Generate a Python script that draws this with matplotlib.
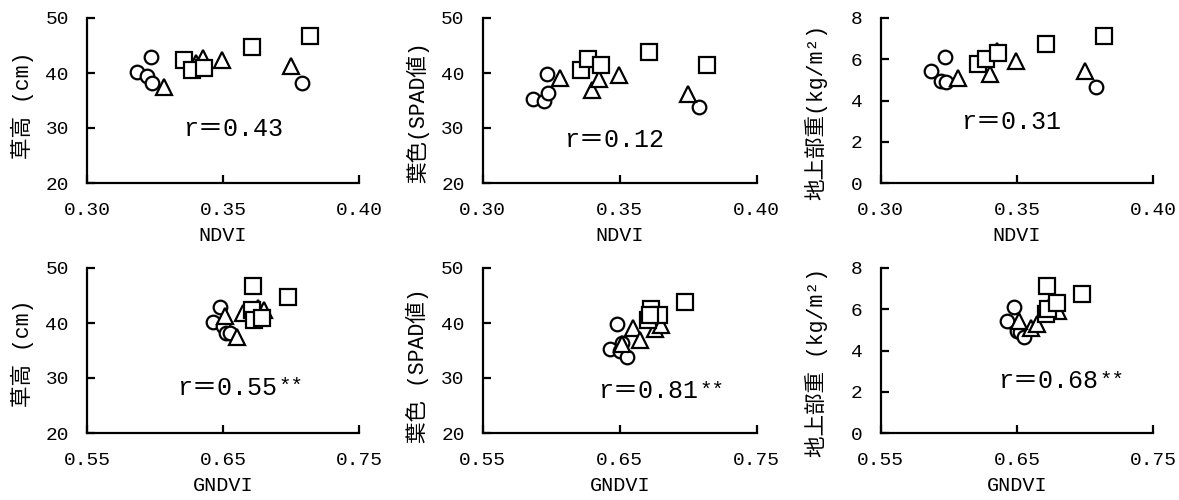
import matplotlib

matplotlib.use("Agg")

import matplotlib.pyplot as plt

plt.rcParams["font.family"] = ["Liberation Mono", "Noto Sans CJK JP"]

# 3区 (○ △ □) x 5点, 同じ試料を NDVI / GNDVI の両方で描く
ndvi_circle = [0.3185, 0.3222, 0.3240, 0.3235, 0.3790]
gndvi_circle = [0.643, 0.650, 0.652, 0.648, 0.655]
height_circle = [40.1, 39.5, 38.1, 42.9, 38.2]
spad_circle = [35.3, 34.9, 36.3, 39.8, 33.8]
weight_circle = [5.45, 4.95, 4.88, 6.10, 4.65]

ndvi_triangle = [0.3283, 0.3400, 0.3425, 0.3498, 0.3750]
gndvi_triangle = [0.660, 0.665, 0.676, 0.680, 0.6515]
height_triangle = [37.4, 41.8, 42.7, 42.4, 41.3]
spad_triangle = [39.1, 36.9, 38.9, 39.7, 36.2]
weight_triangle = [5.09, 5.29, 6.38, 5.93, 5.41]

ndvi_square = [0.3358, 0.3385, 0.3430, 0.3607, 0.3820]
gndvi_square = [0.671, 0.673, 0.679, 0.698, 0.672]
height_square = [42.3, 40.6, 41.0, 44.8, 46.8]
spad_square = [40.5, 42.5, 41.5, 43.9, 41.4]
weight_square = [5.75, 6.00, 6.30, 6.72, 7.15]

ndvi_ticks = [0.30, 0.35, 0.40]
gndvi_ticks = [0.55, 0.65, 0.75]
grass_ticks = [20, 30, 40, 50]
weight_ticks = [0, 2, 4, 6, 8]

r_top = ["0.43", "0.12", "0.31"]
r_bottom = ["0.55", "0.81", "0.68"]

labels_top = ["草高 (cm)", "葉色(SPAD値)", "地上部重(kg/m²)"]
labels_bottom = ["草高 (cm)", "葉色 (SPAD値)", "地上部重 (kg/m²)"]

fig = plt.figure(figsize=(11.79, 5.0), dpi=100)

col_left = [87, 482.7, 880.7]
col_width = [272, 274, 272.6]
row_bottom = [183, 433]
W, H = 1179, 500

groups_x = {
    "NDVI": [ndvi_circle, ndvi_triangle, ndvi_square],
    "GNDVI": [gndvi_circle, gndvi_triangle, gndvi_square],
}
groups_y = [
    [height_circle, height_triangle, height_square],
    [spad_circle, spad_triangle, spad_square],
    [weight_circle, weight_triangle, weight_square],
]
marker_style = [("o", 9.8), ("^", 11), ("s", 11.5)]

label_y = [[0.47, 0.43, 0.43], [0.48, 0.41, 0.43]]
text_top = [(0.3537, 29.9), (0.3479, 27.8), (0.3477, 2.98)]
text_bottom = [(0.6895, 26.9), (0.7074, 26.3), (0.7097, 2.17)]

for row in range(2):
    xname = "NDVI" if row == 0 else "GNDVI"
    xticks = ndvi_ticks if row == 0 else gndvi_ticks
    for col in range(3):
        ax = fig.add_axes([
            col_left[col] / W,
            1 - row_bottom[row] / H,
            col_width[col] / W,
            165 / H,
        ])
        for xs, ys, (mk, ms) in zip(groups_x[xname], groups_y[col], marker_style):
            ax.plot(xs, ys, linestyle="none", marker=mk, markersize=ms,
                    markerfacecolor="white", markeredgecolor="black",
                    markeredgewidth=1.6, clip_on=False)

        yticks = weight_ticks if col == 2 else grass_ticks
        ax.set_xlim(xticks[0], xticks[-1])
        ax.set_ylim(yticks[0], yticks[-1])
        ax.set_xticks(xticks)
        ax.set_xticklabels([f"{t:.2f}" for t in xticks])
        ax.set_yticks(yticks)
        ax.spines[["top", "right"]].set_visible(False)
        for side in ["left", "bottom"]:
            ax.spines[side].set_linewidth(1.6)
        ax.tick_params(direction="in", length=6, width=1.6, labelsize=14,
                       pad=13)
        ax.tick_params(axis="x", pad=14)

        ax.set_xlabel(xname, fontsize=14.5)
        ax.xaxis.set_label_coords(0.5, -0.26)
        ylabel = labels_top[col] if row == 0 else labels_bottom[col]
        ax.set_ylabel(ylabel, fontsize=15.5)
        ax.yaxis.set_label_coords(-0.195, label_y[row][col])

        if row == 0:
            tx, ty = text_top[col]
            ax.text(tx, ty, "r＝" + r_top[col], ha="center", va="center",
                    fontsize=18)
        else:
            tx, ty = text_bottom[col]
            ax.text(tx, ty, "r＝" + r_bottom[col], ha="right", va="baseline",
                    fontsize=18)
            ax.annotate("**", (tx, ty), xytext=(1, 2),
                        textcoords="offset points", ha="left",
                        va="baseline", fontsize=15)

fig.savefig("out.png", dpi=100)
